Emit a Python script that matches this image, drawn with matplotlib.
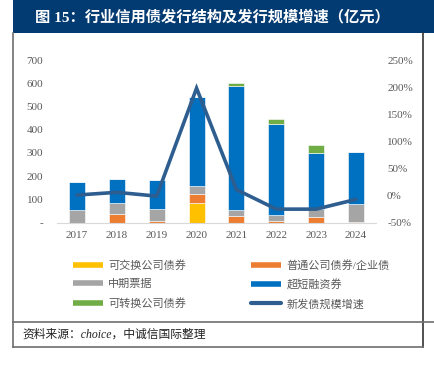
import numpy as np
import matplotlib.pyplot as plt
from matplotlib.lines import Line2D
from matplotlib.patches import Rectangle
from matplotlib.ticker import FuncFormatter

plt.rcParams['font.family'] = ['Liberation Serif', 'Noto Sans CJK SC']

years = ['2017', '2018', '2019', '2020', '2021', '2022', '2023', '2024']
exch = [0, 0, 0, 84, 0, 0, 0, 0]          # 可交换公司债券
corp = [0, 36, 6, 40, 30, 8, 26, 2]        # 普通公司债券/企业债
mtn = [53, 49, 53, 33, 25, 25, 33, 78]     # 中期票据
scp = [124, 102, 126, 383, 535, 392, 243, 226]  # 超短融资券
conv = [0, 0, 0, 0, 12, 22, 33, 0]         # 可转换公司债券
growth = [1, 6, -1, 198, 11, -25, -25, -7]  # 新发债规模增速 (%)

names = ['可交换公司债券', '普通公司债券/企业债', '中期票据', '超短融资券', '可转换公司债券']
colors = ['#FFC000', '#ED7D31', '#A5A5A5', '#0070C0', '#70AD47']
line_color = '#2E5E8F'
grey_txt = '#595959'

fig = plt.figure(figsize=(4.35, 3.67), dpi=100)

# title bar
fig.add_artist(Rectangle((13 / 435, 1 - 33 / 367), 1, 33 / 367, transform=fig.transFigure,
                         facecolor='#023A72', edgecolor='none'))
fig.text(35 / 435, 1 - 17 / 367, '图 15：行业信用债发行结构及发行规模增速（亿元）',
         color='white', fontsize=11, fontweight='bold', va='center', ha='left')

# frame lines
frame = '#6E6E6E'
fig.add_artist(Line2D([13 / 435, 13 / 435], [1 - 33 / 367, 1 - 347 / 367], color=frame, lw=1.2))
fig.add_artist(Line2D([423 / 435, 423 / 435], [1 - 33 / 367, 1 - 347 / 367], color='#333333', lw=1.2))
fig.add_artist(Line2D([13 / 435, 1], [1 - 322 / 367, 1 - 322 / 367], color=frame, lw=1.2))
fig.add_artist(Line2D([13 / 435, 423 / 435], [1 - 347 / 367, 1 - 347 / 367], color=frame, lw=1.2))

fig.text(22 / 435, 1 - 335 / 367, '资料来源：choice，中诚信国际整理', fontsize=8.5,
         style='italic', va='center', ha='left', color='#222222')

ax = fig.add_axes([57 / 435, 1 - 222.7 / 367, 319 / 435, 162.7 / 367])
x = np.arange(len(years))
bottom = np.zeros(len(years))
handles = []
for vals, c, n in zip([exch, corp, mtn, scp, conv], colors, names):
    ax.bar(x, vals, 0.4, bottom=bottom, color=c, edgecolor='white', linewidth=0.4)
    bottom += np.array(vals)
    handles.append(Line2D([], [], color=c, lw=4, solid_capstyle='butt', label=n))

ax.set_xlim(-0.5, 7.5)
ax.set_ylim(0, 700)
ax.set_yticks(range(0, 701, 100))
ax.yaxis.set_major_formatter(FuncFormatter(lambda v, p: '-' if v == 0 else '%d' % v))
ax.set_xticks(x)
ax.set_xticklabels(years)
for s in ['top', 'right', 'left']:
    ax.spines[s].set_visible(False)
ax.spines['bottom'].set_color('#D9D9D9')
ax.tick_params(length=0, labelsize=8, labelcolor=grey_txt)
ax.tick_params(axis='y', pad=10)
ax.tick_params(axis='x', pad=6)

ax2 = ax.twinx()
ax2.plot(x, growth, color=line_color, lw=2.6, solid_capstyle='round', solid_joinstyle='miter')
ax2.set_ylim(-50, 250)
ax2.set_yticks(range(-50, 251, 50))
ax2.yaxis.set_major_formatter(FuncFormatter(lambda v, p: '%d%%' % v))
for s in ax2.spines.values():
    s.set_visible(False)
ax2.tick_params(length=0, labelsize=8, labelcolor=grey_txt, pad=8)
handles.append(Line2D([], [], color=line_color, lw=3, solid_capstyle='round', label='新发债规模增速'))

order = [0, 2, 4, 1, 3, 5]
leg = fig.legend([handles[i] for i in order], [handles[i].get_label() for i in order],
                 ncol=2, loc='upper left', bbox_to_anchor=(73 / 435, 1 - 260 / 367),
                 frameon=False, fontsize=8, handlelength=2.7, handletextpad=0.45,
                 columnspacing=5.9, labelspacing=0.75, borderaxespad=0, borderpad=0)
for t in leg.get_texts():
    t.set_color(grey_txt)

fig.savefig('out.png', dpi=100)
